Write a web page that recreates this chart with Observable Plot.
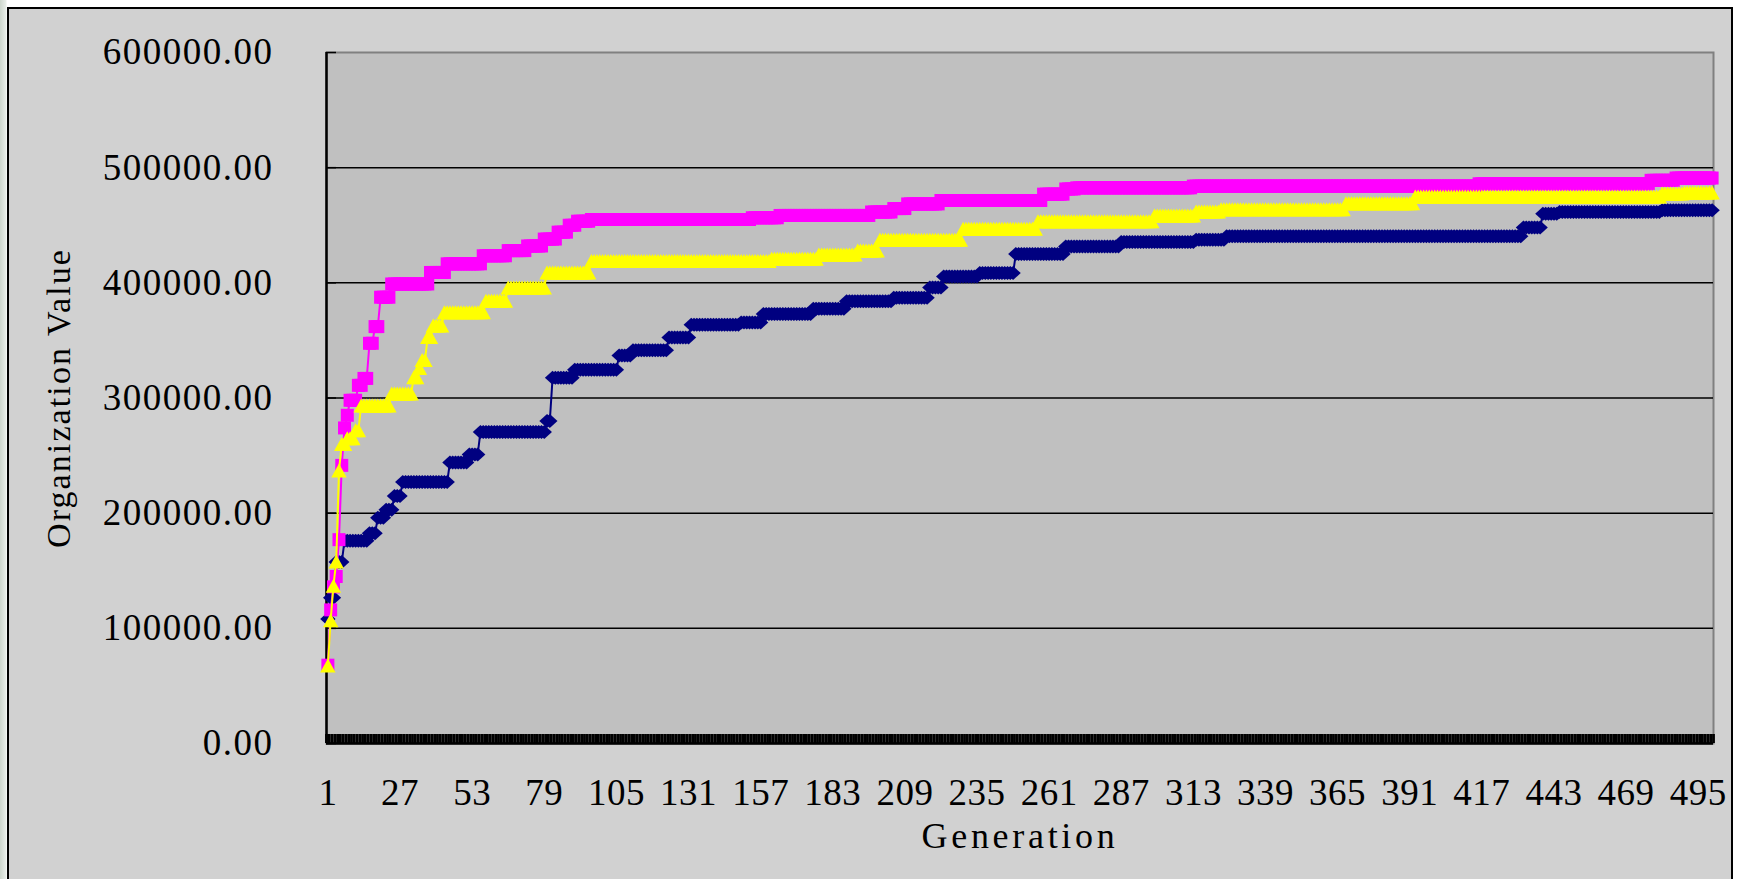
<!DOCTYPE html>
<html>
<head>
<meta charset="utf-8">
<script src="https://cdn.jsdelivr.net/npm/d3@7"></script>
<script src="https://cdn.jsdelivr.net/npm/@observablehq/plot@0.6"></script>
<style>
  html, body { margin: 0; padding: 0; }
  body {
    width: 1739px; height: 879px; position: relative; overflow: hidden;
    background: linear-gradient(to right, #cdd6cd 0px, #e9eee9 6px, #ffffff 7px);
  }
  #panel {
    position: absolute; left: 7px; top: 7px; width: 1726px; height: 900px;
    background: #d1d1d1; border: 2px solid #000; box-sizing: border-box;
  }
  #chart { position: absolute; left: 0; top: 0; }
</style>
</head>
<body>
<div id="panel"></div>
<div id="chart"></div>
<script>
// Generations 1..500 form the category axis
const categories = d3.range(1, 501);
const xTickLabels = [1, 27, 53, 79, 105, 131, 157, 183, 209, 235, 261, 287, 313, 339, 365, 391, 417, 443, 469, 495];
const yTicks = [0, 100000, 200000, 300000, 400000, 500000, 600000];

// Best organization value per run, listed at each generation where it improved
const runNavy = [
  [1, 108000], [2, 126500], [4, 157500], [7, 176000], [16, 182500], [19, 196000],
  [22, 203000], [25, 215000], [28, 227000], [45, 244000], [52, 251000], [56, 270500],
  [80, 280000], [82, 317500], [90, 324500], [106, 337000], [111, 341500], [124, 352500],
  [132, 363500], [150, 365500], [158, 373000], [176, 377500], [188, 384000], [205, 387000],
  [218, 396000], [223, 405500], [236, 408500], [249, 425000], [267, 431500], [287, 435500],
  [314, 437500], [325, 440500], [432, 448000], [439, 460000], [445, 461500], [482, 463000]
];
const runMagenta = [
  [1, 68000], [2, 116000], [3, 136000], [4, 145000], [5, 177000], [6, 241500],
  [7, 274000], [8, 285000], [9, 298000], [12, 311000], [14, 317000], [16, 347500],
  [18, 362000], [20, 387500], [24, 399000], [38, 409000], [44, 416500], [57, 423500],
  [66, 428000], [73, 432000], [79, 438000], [84, 444000], [88, 450000], [91, 453500],
  [96, 455000], [154, 456500], [164, 458500], [197, 461500], [205, 464500], [210, 468500],
  [222, 471500], [259, 477000], [267, 481500], [271, 482500], [313, 484000], [416, 486000],
  [478, 489000], [487, 491000]
];
const runYellow = [
  [1, 67700], [2, 107000], [3, 137000], [4, 158000], [5, 237000], [6, 260000],
  [8, 265000], [11, 272000], [13, 293500], [24, 304000], [32, 318000], [34, 326000],
  [35, 333000], [37, 353000], [39, 363000], [43, 374500], [58, 384500], [66, 396000],
  [80, 409000], [96, 419000], [161, 421000], [178, 424500], [192, 428000], [200, 437500],
  [230, 447000], [257, 453500], [299, 458500], [314, 462000], [323, 464000], [368, 469000],
  [393, 475000], [482, 477500], [490, 478500]
];

// The best value is carried forward between improvements
function perGeneration(improvements) {
  let k = 0;
  return categories.map(g => {
    while (k + 1 < improvements.length && improvements[k + 1][0] <= g) k++;
    return {g, v: improvements[k][1]};
  });
}

// Marker shapes
const diamond = {draw(c, size) {
  const r = Math.sqrt(size / Math.PI);
  c.moveTo(0, -r); c.lineTo(r * 1.1, 0); c.lineTo(0, r); c.lineTo(-r * 1.1, 0); c.closePath();
}};
const square = {draw(c, size) {
  const r = Math.sqrt(size / Math.PI);
  c.moveTo(-r, -r); c.lineTo(r, -r); c.lineTo(r, r); c.lineTo(-r, r); c.closePath();
}};
const triangle = {draw(c, size) {
  const r = Math.sqrt(size / Math.PI);
  c.moveTo(0, -r); c.lineTo(r * 1.1, r); c.lineTo(-r * 1.1, r); c.closePath();
}};

const series = [
  {data: perGeneration(runNavy), color: "#000080", symbol: diamond, r: 7},
  {data: perGeneration(runMagenta), color: "#ff00ff", symbol: square, r: 6.5},
  {data: perGeneration(runYellow), color: "#ffff00", symbol: triangle, r: 7}
];

const seriesMarks = series.flatMap(s => [
  Plot.line(s.data, {x: "g", y: "v", stroke: s.color, strokeWidth: 2}),
  Plot.dot(s.data, {x: "g", y: "v", symbol: s.symbol, r: s.r, fill: s.color, stroke: "none"})
]);

const categoryBounds = d3.range(0.5, 501, 1);

const chart = Plot.plot({
  width: 1739,
  height: 879,
  marginLeft: 326,
  marginRight: 26,
  marginTop: 52,
  marginBottom: 136,
  style: {background: "transparent", fontFamily: "'Liberation Serif', 'Times New Roman', serif", color: "#000", overflow: "visible"},
  x: {domain: [0.5, 500.5]},
  y: {domain: [0, 600000]},
  marks: [
    Plot.frame({fill: "#c0c0c0", stroke: "#808080", strokeWidth: 2}),
    Plot.ruleY(yTicks.slice(1, -1), {stroke: "#000", strokeWidth: 1.5}),
    // category tick marks drawn inward from the axis
    Plot.ruleX(categoryBounds, {x: d => d, y1: 0, y2: 0, insetBottom: 9, stroke: "#000", strokeWidth: 2.8}),
    Plot.ruleY(yTicks, {y: d => d, x1: 0.5, x2: 0.5, insetRight: -10, stroke: "#000", strokeWidth: 1.5}),
    Plot.ruleX([0.5], {stroke: "#000", strokeWidth: 2.5}),
    Plot.ruleY([0], {stroke: "#000", strokeWidth: 2.5}),
    Plot.axisY(yTicks, {tickSize: 0, tickPadding: 53, tickFormat: d3.format(".2f"), fontSize: 37, label: null}),
    Plot.axisX(xTickLabels, {tickSize: 0, tickPadding: 35, tickFormat: d => String(d), fontSize: 37, label: null}),
    ...seriesMarks,
    Plot.text(["Generation"], {frameAnchor: "bottom", lineAnchor: "middle", dy: 93, fontSize: 36}),
    Plot.text(["Organization Value"], {frameAnchor: "left", textAnchor: "middle", lineAnchor: "middle", dx: -267, rotate: -90, fontSize: 34})
  ]
});

d3.select(chart).selectAll("text").each(function() {
  const t = this.textContent;
  if (t === "Generation") this.setAttribute("letter-spacing", "3.7");
  else if (t === "Organization Value") this.setAttribute("letter-spacing", "2.1");
  else if (/^\d+\.\d\d$/.test(t)) this.setAttribute("letter-spacing", "1.5");
  else if (/^\d+$/.test(t)) this.setAttribute("letter-spacing", "0.5");
});

document.getElementById("chart").appendChild(chart);
</script>
</body>
</html>
